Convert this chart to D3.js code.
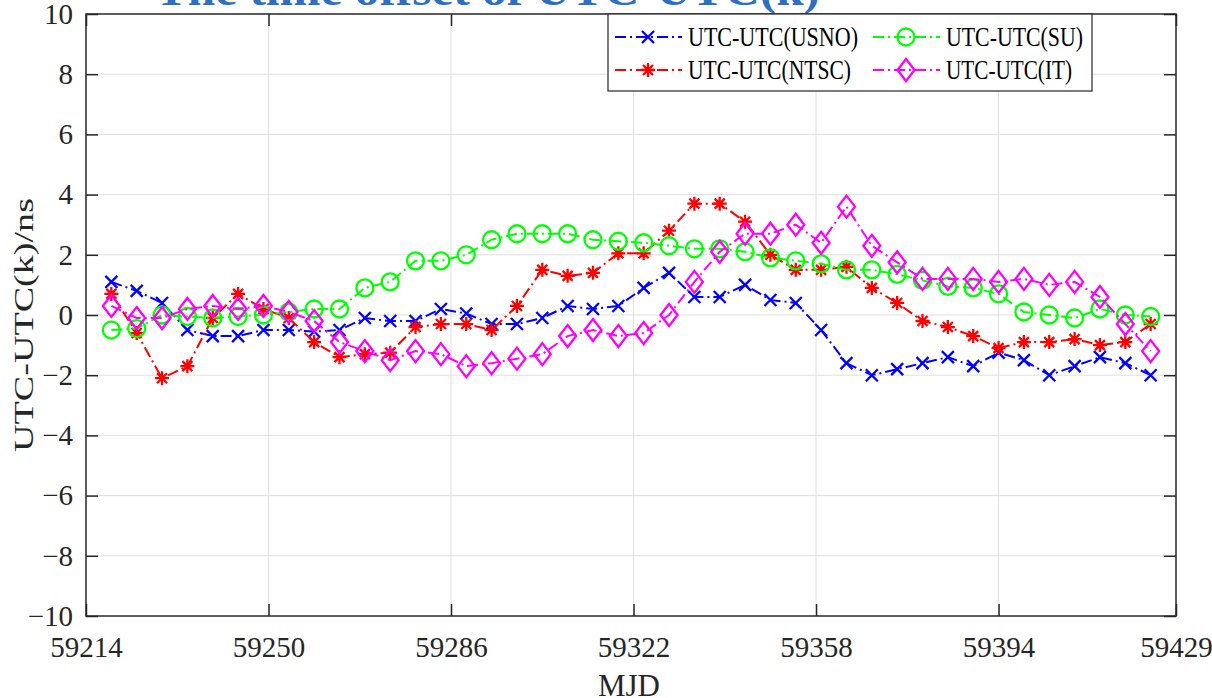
<!DOCTYPE html>
<html>
<head>
<meta charset="utf-8">
<script src="https://cdn.jsdelivr.net/npm/d3@7"></script>
<style>
  body { margin: 0; background: #fff; }
  svg { display: block; }
</style>
</head>
<body>
<svg id="chart" width="1212" height="698" font-family="Liberation Serif"></svg>
<script>
// data
var mjd = [59219, 59224, 59229, 59234, 59239, 59244, 59249, 59254, 59259, 59264,
           59269, 59274, 59279, 59284, 59289, 59294, 59299, 59304, 59309, 59314,
           59319, 59324, 59329, 59334, 59339, 59344, 59349, 59354, 59359, 59364,
           59369, 59374, 59379, 59384, 59389, 59394, 59399, 59404, 59409, 59414,
           59419, 59424];
var usno = [1.1, 0.8, 0.4, -0.5, -0.7, -0.7, -0.5, -0.5, -0.55, -0.5,
            -0.1, -0.2, -0.2, 0.2, 0.05, -0.3, -0.3, -0.1, 0.3, 0.2,
            0.3, 0.9, 1.4, 0.6, 0.6, 1.0, 0.5, 0.4, -0.5, -1.6,
            -2.0, -1.8, -1.6, -1.4, -1.7, -1.25, -1.5, -2.0, -1.7, -1.4,
            -1.6, -2.0];
var ntsc = [0.7, -0.6, -2.1, -1.7, -0.1, 0.7, 0.2, -0.1, -0.9, -1.4,
            -1.3, -1.25, -0.4, -0.3, -0.3, -0.5, 0.3, 1.5, 1.3, 1.4,
            2.05, 2.05, 2.8, 3.7, 3.7, 3.1, 2.0, 1.5, 1.5, 1.6,
            0.9, 0.4, -0.2, -0.4, -0.7, -1.1, -0.9, -0.9, -0.8, -1.0,
            -0.9, -0.3];
var su = [-0.5, -0.45, 0.0, -0.05, -0.1, -0.05, 0.0, 0.1, 0.2, 0.2,
          0.9, 1.1, 1.8, 1.8, 2.0, 2.5, 2.7, 2.7, 2.7, 2.5,
          2.45, 2.4, 2.3, 2.2, 2.2, 2.1, 1.9, 1.8, 1.7, 1.5,
          1.5, 1.35, 1.15, 0.95, 0.9, 0.7, 0.1, 0.0, -0.1, 0.2,
          0.0, -0.05];
var it = [0.3, -0.1, -0.1, 0.2, 0.3, 0.2, 0.3, 0.1, -0.2, -0.9,
          -1.2, -1.5, -1.2, -1.3, -1.7, -1.6, -1.45, -1.3, -0.7, -0.5,
          -0.7, -0.6, 0.0, 1.1, 2.1, 2.7, 2.7, 3.0, 2.4, 3.6,
          2.3, 1.75, 1.2, 1.2, 1.2, 1.1, 1.2, 1.0, 1.1, 0.6,
          -0.3, -1.2];
var xTicks = [59214, 59250, 59286, 59322, 59358, 59394, 59429];
var yTicks = [-10, -8, -6, -4, -2, 0, 2, 4, 6, 8, 10];
var seriesNames = ["UTC-UTC(USNO)", "UTC-UTC(NTSC)", "UTC-UTC(SU)", "UTC-UTC(IT)"];

var svg = d3.select("#chart");
var L = 86, R = 1176, T = 14, B = 616;
var ink = "#262626";
var serif = "Liberation Serif";

var x = d3.scaleLinear().domain([59214, 59429]).range([L, R]);
var y = d3.scaleLinear().domain([-10, 10]).range([B, T]);

// title, mostly cut off at the top of the picture
svg.append("text")
    .attr("x", 155).attr("y", 5)
    .attr("textLength", 665).attr("lengthAdjust", "spacingAndGlyphs")
    .attr("font-family", serif)
    .style("font-size", "44px").style("font-weight", "bold")
    .style("fill", "#2f6fbf")
    .text("The time offset of UTC-UTC(k)");

// grid
var grid = svg.append("g").style("stroke", "#dfdfdf").style("stroke-width", 1);
grid.selectAll(".gx").data(xTicks.slice(1, -1)).enter().append("line")
    .attr("x1", function(d) { return x(d); }).attr("x2", function(d) { return x(d); })
    .attr("y1", T).attr("y2", B);
grid.selectAll(".gy").data(yTicks.slice(1, -1)).enter().append("line")
    .attr("y1", function(d) { return y(d); }).attr("y2", function(d) { return y(d); })
    .attr("x1", L).attr("x2", R);

// axes, ticks inward like matlab
function styleAxis(g, labels) {
    g.attr("font-family", serif).attr("font-size", 29).attr("fill", ink);
    g.select(".domain").remove();
    g.selectAll("line").style("stroke", ink).style("stroke-width", 1.5);
    g.selectAll("text").attr("fill", ink);
    if (!labels) g.selectAll("text").remove();
}
svg.append("g").attr("transform", "translate(0," + B + ")")
    .call(d3.axisBottom(x).tickValues(xTicks).tickFormat(d3.format("d")).tickSize(-12).tickPadding(20))
    .call(styleAxis, true);
svg.append("g").attr("transform", "translate(0," + T + ")")
    .call(d3.axisTop(x).tickValues(xTicks).tickSize(-12))
    .call(styleAxis, false);
svg.append("g").attr("transform", "translate(" + L + ",0)")
    .call(d3.axisLeft(y).tickValues(yTicks).tickSize(-12).tickPadding(13))
    .call(styleAxis, true);
svg.append("g").attr("transform", "translate(" + R + ",0)")
    .call(d3.axisRight(y).tickValues(yTicks).tickSize(-12))
    .call(styleAxis, false);

svg.append("rect")
    .attr("x", L).attr("y", T).attr("width", R - L).attr("height", B - T)
    .style("fill", "none").style("stroke", ink).style("stroke-width", 1.5);

// axis titles
svg.append("text")
    .attr("x", 629).attr("y", 696)
    .attr("text-anchor", "middle")
    .attr("textLength", 62).attr("lengthAdjust", "spacingAndGlyphs")
    .attr("font-family", serif)
    .style("font-size", "31px").style("fill", ink)
    .text("MJD");
svg.append("text")
    .attr("transform", "translate(33,325) rotate(-90)")
    .attr("text-anchor", "middle")
    .attr("textLength", 254).attr("lengthAdjust", "spacingAndGlyphs")
    .attr("font-family", serif)
    .style("font-size", "28px").style("fill", ink)
    .text("UTC-UTC(k)/ns");

// marker shapes
function markerPath(kind) {
    if (kind == "x") return "M-6,-6L6,6M-6,6L6,-6";
    if (kind == "star") return "M-7,0L7,0M0,-7L0,7M-5,-5L5,5M-5,5L5,-5";
    if (kind == "circle") return "M8.5,0A8.5,8.5 0 1,1 -8.5,0A8.5,8.5 0 1,1 8.5,0Z";
    return "M0,-11L8.5,0L0,11L-8.5,0Z";
}

var series = [
    {name: seriesNames[0], values: usno, color: "#0000ff", marker: "x"},
    {name: seriesNames[1], values: ntsc, color: "#ff0000", marker: "star"},
    {name: seriesNames[2], values: su, color: "#00ff00", marker: "circle"},
    {name: seriesNames[3], values: it, color: "#ff00ff", marker: "diamond"}
];

var line = d3.line()
    .x(function(d, i) { return x(mjd[i]); })
    .y(function(d) { return y(d); });

var plot = svg.append("g");
series.forEach(function(s) {
    plot.append("path")
        .attr("d", line(s.values))
        .style("fill", "none").style("stroke", s.color)
        .style("stroke-width", 2).style("stroke-dasharray", "11,4,2,4");
    plot.selectAll(null).data(s.values).enter().append("path")
        .attr("transform", function(d, i) { return "translate(" + x(mjd[i]) + "," + y(d) + ")"; })
        .attr("d", markerPath(s.marker))
        .style("fill", "none").style("stroke", s.color).style("stroke-width", 2.3);
});

// legend
var leg = svg.append("g");
leg.append("rect")
    .attr("x", 608).attr("y", T).attr("width", 484).attr("height", 77)
    .style("fill", "#fff").style("stroke", ink).style("stroke-width", 1.2);
var legPos = [[615, 37], [615, 70], [873, 37], [873, 70]];
var legW = [170, 163, 137, 126];
series.forEach(function(s, i) {
    var p = legPos[i];
    var g = leg.append("g").attr("transform", "translate(" + p[0] + "," + p[1] + ")");
    g.append("line").attr("x1", 0).attr("x2", 67).attr("y1", 0).attr("y2", 0)
        .style("stroke", s.color).style("stroke-width", 2).style("stroke-dasharray", "11,4,2,4");
    g.append("path").attr("transform", "translate(33,0)")
        .attr("d", markerPath(s.marker))
        .style("fill", "none").style("stroke", s.color).style("stroke-width", 2.3);
    g.append("text").attr("x", 73).attr("y", 9)
        .attr("textLength", legW[i]).attr("lengthAdjust", "spacingAndGlyphs")
        .attr("font-family", serif)
        .style("font-size", "27px").style("fill", "#000")
        .text(s.name);
});
</script>
</body>
</html>
